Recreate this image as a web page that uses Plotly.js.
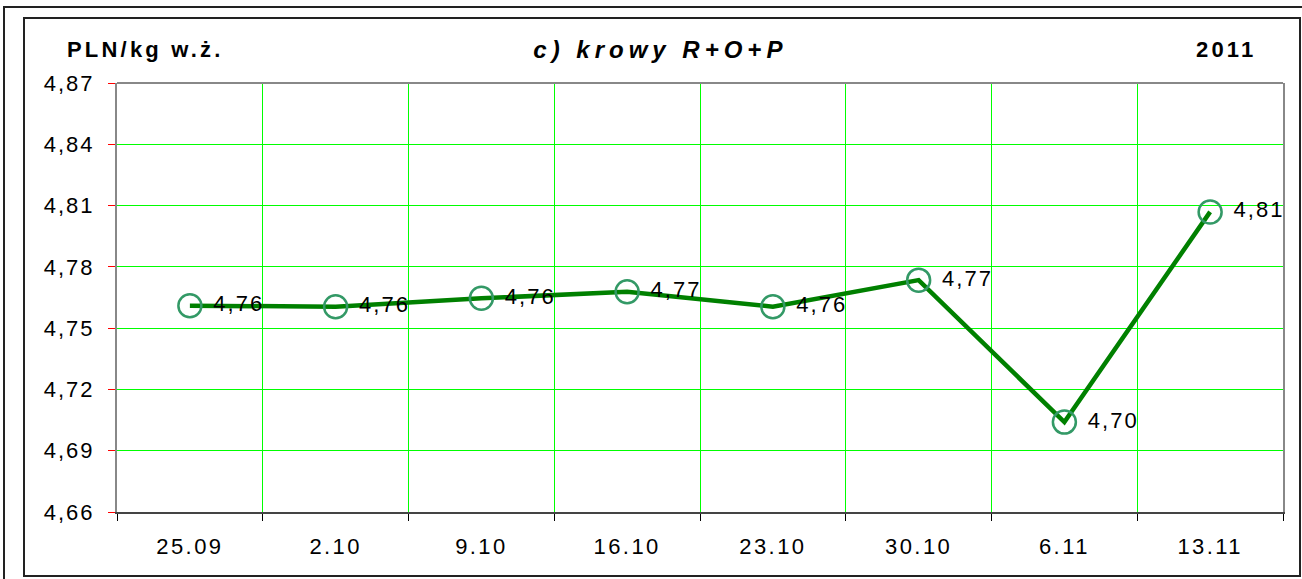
<!DOCTYPE html>
<html>
<head>
<meta charset="utf-8">
<script src="https://cdn.plot.ly/plotly-3.0.1.min.js"></script>
<style>
  html, body { margin: 0; padding: 0; background: #fff; }
  #wrap { position: relative; width: 1302px; height: 579px; overflow: hidden; }
  #chart { position: absolute; left: 0; top: 0; width: 1302px; height: 579px; }
  .frame { position: absolute; pointer-events: none; box-sizing: border-box; }
  #outer { left: 3px; top: 6px; width: 1320px; height: 600px; border: 2px solid #222; }
  #inner { left: 23px; top: 17px; width: 1278px; height: 560px; border: 2px solid #222; }
  .xtick text { letter-spacing: 2.4px; }
  .ytick text { letter-spacing: 2px; }
  .textpoint text { letter-spacing: 2px; }
  .annotation-text { letter-spacing: 3.2px; }
  .gtitle { letter-spacing: 5px; }
</style>
</head>
<body>
<div id="wrap">
  <div id="chart"></div>
  <div id="outer" class="frame"></div>
  <div id="inner" class="frame"></div>
</div>
<script>
const categories = ["25.09", "2.10", "9.10", "16.10", "23.10", "30.10", "6.11", "13.11"];
const prices = [4.761, 4.7605, 4.7646, 4.7678, 4.7605, 4.7735, 4.704, 4.8069];
const yTicks = [4.66, 4.69, 4.72, 4.75, 4.78, 4.81, 4.84, 4.87];
const titleText = "c) krowy R+O+P";
const unitText = "PLN/kg w.ż.";
const yearText = "2011";

const FONT = "Liberation Sans, Arial, sans-serif";

const trace = {
  type: "scatter",
  mode: "lines+markers+text",
  x: categories,
  y: prices,
  line: { color: "#008000", width: 4.5 },
  marker: { symbol: "circle-open", size: 23, color: "#339966", line: { width: 2.5, color: "#339966" } },
  texttemplate: "\u00a0%{y:.2f}",
  textposition: "middle right",
  textfont: { family: FONT, size: 22, color: "#000" },
  cliponaxis: false,
  hoverinfo: "skip"
};

const layout = {
  width: 1302,
  height: 579,
  margin: { l: 117, r: 19, t: 83, b: 67 },
  paper_bgcolor: "#fff",
  plot_bgcolor: "#fff",
  separators: ", ",
  showlegend: false,
  font: { family: FONT, size: 22, color: "#000" },
  title: {
    text: "<b><i>" + titleText + "</i></b>",
    font: { family: FONT, size: 24, color: "#000" },
    x: 0.466, xanchor: "center", xref: "paper",
    y: 0.9136, yref: "container", yanchor: "middle"
  },
  xaxis: {
    type: "category",
    range: [-0.5, 7.5],
    tickson: "boundaries",
    ticks: "outside",
    ticklen: 7,
    tickcolor: "#000",
    tickwidth: 1,
    showgrid: true,
    gridcolor: "#00ff00",
    gridwidth: 1,
    showline: true,
    linecolor: "#444",
    linewidth: 2,
    mirror: false,
    ticklabelstandoff: 14,
    tickfont: { family: FONT, size: 22, color: "#000" },
    zeroline: false,
    fixedrange: true
  },
  yaxis: {
    range: [4.66, 4.87],
    tickvals: yTicks,
    tickformat: ".2f",
    ticks: "outside",
    ticklen: 7,
    tickcolor: "#ff0000",
    tickwidth: 1,
    showgrid: true,
    gridcolor: "#00ff00",
    gridwidth: 1,
    showline: true,
    linecolor: "#888",
    linewidth: 2,
    mirror: true,
    ticklabelstandoff: 9,
    tickfont: { family: FONT, size: 22, color: "#000" },
    zeroline: false,
    fixedrange: true
  },
  shapes: [
    { type: "line", xref: "paper", yref: "paper", x0: 0, x1: 1, y0: 1, y1: 1, line: { color: "#888", width: 2 } }
  ],
  annotations: [
    {
      text: "<b>" + unitText + "</b>", xref: "paper", yref: "paper",
      x: -0.0446, y: 1.077, xanchor: "left", yanchor: "middle",
      showarrow: false, font: { family: FONT, size: 22, color: "#000" }
    },
    {
      text: "<b>" + yearText + "</b>", xref: "paper", yref: "paper",
      x: 0.979, y: 1.077, xanchor: "right", yanchor: "middle",
      showarrow: false, font: { family: FONT, size: 22, color: "#000" }
    }
  ]
};

Plotly.newPlot("chart", [trace], layout, { displayModeBar: false, staticPlot: true });
</script>
</body>
</html>
